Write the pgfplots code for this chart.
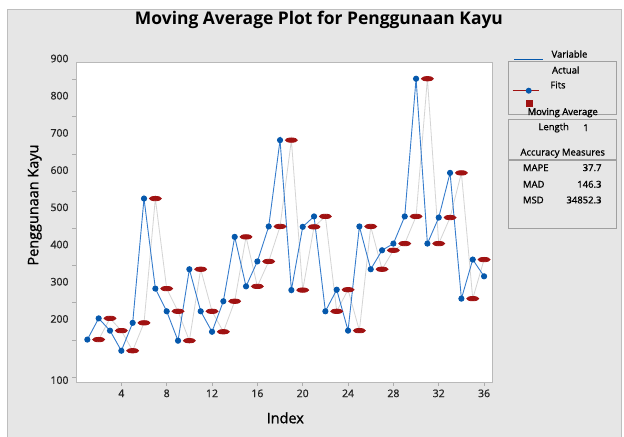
\documentclass[border=0pt]{standalone}
\usepackage{pgfplots}
\pgfplotsset{compat=1.18}
\usepackage{pgfplotstable}
\usepackage{fontspec}
\setmainfont{Open Sans}
\newfontfamily\semib{Open Sans}[FakeBold=1.2]
\definecolor{bg}{RGB}{230,230,230}
\definecolor{frame}{RGB}{190,190,190}
\definecolor{actblue}{RGB}{5,88,172}
\definecolor{actline}{RGB}{55,125,205}
\definecolor{fitred}{RGB}{160,18,18}
\definecolor{fitline}{RGB}{212,212,212}
\definecolor{boxgray}{RGB}{160,160,160}

\pgfplotstableread{
idx val
1 201
2 258
3 225
4 171
5 246
6 580
7 338
8 277
9 198
10 390
11 277
12 222
13 304
14 477
15 344
16 411
17 505
18 737
19 334
20 504
21 532
22 277
23 335
24 225
25 505
26 390
27 441
28 459
29 532
30 902
31 459
32 529
33 649
34 311
35 416
36 371
}\actual

\pgfplotstableread{
idx val
2 201
3 258
4 225
5 171
6 246
7 580
8 338
9 277
10 198
11 390
12 277
13 222
14 304
15 477
16 344
17 411
18 505
19 737
20 334
21 504
22 532
23 277
24 335
25 225
26 505
27 390
28 441
29 459
30 532
31 902
32 459
33 529
34 649
35 311
36 416
}\fits

\begin{document}
\begin{tikzpicture}[x=1bp,y=1bp]
\fill[bg] (7.3,0) rectangle (621,428);
\draw[frame, line width=0.7bp] (7.3,0) -- (7.3,428) -- (621,428) -- (621,0);

\begin{axis}[
  at={(76bp,55bp)}, anchor=south west,
  scale only axis, width=416bp, height=320bp,
  xmin=0, xmax=36.7, ymin=87, ymax=947,
  axis background/.style={fill=white},
  axis line style={gray!55, line width=0.8bp},
  xtick={4,8,...,36},
  ytick={200,300,...,900},
  extra y ticks={100},
  xtick pos=lower, ytick pos=left,
  tick align=outside, major tick length=4bp,
  tick style={gray!65, line width=0.7bp},
  tick label style={font=\semib\fontsize{10.5}{12}\selectfont, text=black!85},
  /pgf/number format/assume math mode=true,
  yticklabel style={yshift=21bp},
  extra y tick style={yticklabel style={yshift=-24bp}},
  every axis title shift=0pt,
  title={Moving Average Plot for Penggunaan Kayu},
  title style={font=\bfseries\fontsize{17.5}{20}\selectfont, at={(axis description cs:0.584,1.133)}, anchor=center},
  xlabel={Index},
  xlabel style={font=\semib\fontsize{14.5}{16}\selectfont, at={(axis description cs:0.503,-0.112)}, anchor=center},
  ylabel={Penggunaan Kayu},
  ylabel style={font=\semib\fontsize{14.5}{16}\selectfont, at={(axis description cs:-0.099,0.553)}, anchor=center},
  clip=false,
]
\addplot[color=fitline, line width=0.8bp, mark=*, mark size=2.2bp,
  mark options={fill=fitred, draw=fitred, xscale=2.7}] table[x=idx, y=val] {\fits};
\addplot[color=actline, line width=0.9bp, mark=*, mark size=2.6bp,
  mark options={fill=actblue, draw=actblue}] table[x=idx, y=val] {\actual};
\end{axis}

% legend panel
\begin{scope}[font=\semib\fontsize{9.5}{11}\selectfont]
\draw[actblue, line width=0.8bp] (514,377.7) -- (543,377.7);
\node at (569.5,383) {Variable};
\draw[boxgray, line width=0.7bp] (508.3,375.3) rectangle (616.7,323);
\node at (565.7,367) {Actual};
\draw[fitred, line width=0.8bp] (512.7,346.3) -- (539,346.3);
\fill[actblue] (528.7,346.3) circle (3bp);
\node at (558,352) {Fits};
\fill[fitred] (526,329.5) rectangle (532.5,336.5);
\node at (562.7,324.3) {Moving Average};
\draw[boxgray, line width=0.7bp] (508.3,318) rectangle (616.7,278);
\node[anchor=west] at (535,309.3) {Length};
\node at (586,309.3) {1};
\node at (562.7,283.7) {Accuracy Measures};
\draw[boxgray, line width=0.7bp] (508.3,276.3) rectangle (616.7,208.7);
\node[anchor=west] at (519.5,269.3) {MAPE};
\node[anchor=east] at (605,269.3) {37.7};
\node[anchor=west] at (519.5,252.7) {MAD};
\node[anchor=east] at (605,252.7) {146.3};
\node[anchor=west] at (519.5,237) {MSD};
\node[anchor=east] at (605,237) {34852.3};
\end{scope}

\pgfresetboundingbox
\path[use as bounding box] (0,0) rectangle (624,437);
\end{tikzpicture}
\end{document}
